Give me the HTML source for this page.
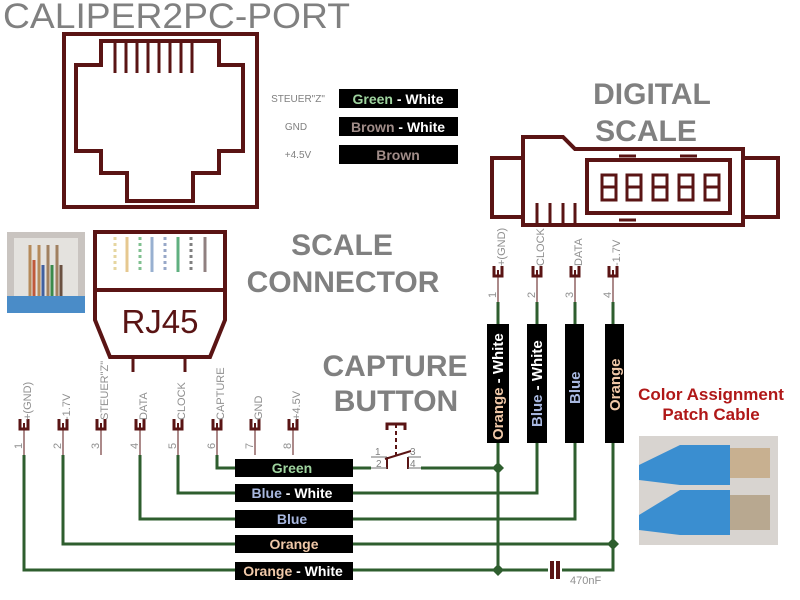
<!DOCTYPE html>
<html><head><meta charset="utf-8"><style>
body{margin:0;background:#fff}
svg{display:block}
text{font-family:"Liberation Sans",Arial,sans-serif}
</style></head><body>
<svg width="800" height="600" viewBox="0 0 800 600" xmlns="http://www.w3.org/2000/svg">
<defs>
<g id="pin"><path d="M-4,-6 V4 H4 V-6" fill="none" stroke="#5a1414" stroke-width="3"/><line x1="0" y1="4" x2="0" y2="-2" stroke="#5a1414" stroke-width="2"/></g>
</defs>
<rect width="800" height="600" fill="#fff"/>
<text x="3" y="28" font-size="35" fill="#808080" textLength="347" lengthAdjust="spacingAndGlyphs">CALIPER2PC-PORT</text>

<!-- RJ45 jack -->
<g fill="none" stroke="#5a1414" stroke-width="4">
<rect x="64" y="34" width="193" height="173"/>
<path d="M76,65 H101 V41 H219 V65 H243 V151 H219 V173 H193 V201 H127 V173 H101 V151 H76 Z"/>
<path d="M115,41V73 M126,41V73 M137,41V73 M148,41V73 M159,41V73 M170,41V73 M181,41V73 M192,41V73" stroke-width="3"/>
</g>

<!-- legend -->
<g font-size="10" fill="#808080" text-anchor="middle">
<text x="298" y="102">STEUER"Z"</text><text x="296" y="130">GND</text><text x="298" y="158">+4.5V</text>
</g>
<g font-size="14" font-weight="bold" text-anchor="middle">
<rect x="339" y="89" width="119" height="19" fill="#000"/>
<text x="398" y="104"><tspan fill="#9fd49f">Green</tspan><tspan fill="#fff"> - White</tspan></text>
<rect x="339" y="117" width="119" height="19" fill="#000"/>
<text x="398" y="132"><tspan fill="#a08c88">Brown</tspan><tspan fill="#fff"> - White</tspan></text>
<rect x="339" y="145" width="119" height="19" fill="#000"/>
<text x="398" y="160" fill="#a08c88">Brown</text>
</g>

<!-- photo -->
<rect x="7" y="232" width="78" height="81" fill="#c9c4c0"/>
<rect x="14" y="238" width="64" height="60" fill="#e4e2de"/>
<g stroke-width="3">
<line x1="30" y1="245" x2="30" y2="298" stroke="#b58a5a"/><line x1="34" y1="260" x2="34" y2="298" stroke="#c0583a"/>
<line x1="39" y1="245" x2="39" y2="298" stroke="#b58a5a"/><line x1="43" y1="265" x2="43" y2="298" stroke="#4060a0"/>
<line x1="48" y1="245" x2="48" y2="298" stroke="#a08060"/><line x1="52" y1="265" x2="52" y2="298" stroke="#3a8a4a"/>
<line x1="57" y1="245" x2="57" y2="298" stroke="#a08060"/><line x1="61" y1="265" x2="61" y2="298" stroke="#6a5040"/>
</g>
<rect x="7" y="296" width="78" height="17" fill="#4a8cc8"/>

<!-- RJ45 plug -->
<g fill="none" stroke="#5a1414" stroke-width="4">
<path d="M95,320 V232 H225 V320 L210,357 H110 Z"/>
<line x1="95" y1="290" x2="225" y2="290"/>
<path d="M133,357V372 M185,357V372" stroke-width="3"/>
</g>
<g stroke-width="3">
<line x1="115" y1="237" x2="115" y2="272" stroke="#e6d6a0" stroke-dasharray="3,3"/>
<line x1="127" y1="237" x2="127" y2="272" stroke="#e6c890"/>
<line x1="140" y1="237" x2="140" y2="272" stroke="#80c090" stroke-dasharray="3,3"/>
<line x1="152" y1="237" x2="152" y2="272" stroke="#98b0d0"/>
<line x1="165" y1="237" x2="165" y2="272" stroke="#98a8c8" stroke-dasharray="3,3"/>
<line x1="178" y1="237" x2="178" y2="272" stroke="#60b080"/>
<line x1="191" y1="237" x2="191" y2="272" stroke="#808080" stroke-dasharray="3,3"/>
<line x1="205" y1="237" x2="205" y2="272" stroke="#908080"/>
</g>
<text x="160" y="333" font-size="33" fill="#5a1414" text-anchor="middle">RJ45</text>

<g font-size="30" font-weight="bold" fill="#808080" text-anchor="middle">
<text x="342" y="255">SCALE</text><text x="343" y="292">CONNECTOR</text>
<text x="652" y="104">DIGITAL</text><text x="646" y="141">SCALE</text>
<text x="395" y="376">CAPTURE</text><text x="396" y="411">BUTTON</text>
</g>

<!-- digital scale -->
<g fill="none" stroke="#5a1414" stroke-width="4">
<rect x="492" y="158" width="31" height="59"/>
<rect x="743" y="158" width="35" height="59"/>
<path d="M523,137 H563 L575,149 H743 V225 H523 Z"/>
<rect x="587" y="160" width="143" height="53"/>
<path d="M537,203V225 M550,203V225 M563,203V225 M575,203V225" stroke-width="3"/>
<path d="M619,156H636 M680,156H697 M619,220H636" stroke-width="3"/>
<g stroke-width="3">
<rect x="602" y="175" width="14" height="25"/><line x1="602" y1="187" x2="616" y2="187"/>
<rect x="627" y="175" width="14" height="25"/><line x1="627" y1="187" x2="641" y2="187"/>
<rect x="653" y="175" width="14" height="25"/><line x1="653" y1="187" x2="667" y2="187"/>
<rect x="679" y="175" width="14" height="25"/><line x1="679" y1="187" x2="693" y2="187"/>
<rect x="705" y="175" width="14" height="25"/><line x1="705" y1="187" x2="719" y2="187"/>
</g>
</g>

<!-- scale connector pins -->
<g font-size="11" fill="#909090">
<use href="#pin" x="498" y="272"/><use href="#pin" x="537" y="272"/><use href="#pin" x="575" y="272"/><use href="#pin" x="613" y="272"/>
<text transform="translate(505,266) rotate(-90)">+(GND)</text>
<text transform="translate(544,266) rotate(-90)">CLOCK</text>
<text transform="translate(582,266) rotate(-90)">DATA</text>
<text transform="translate(620,266) rotate(-90)">-1.7V</text>
<text transform="translate(496,298) rotate(-90)">1</text>
<text transform="translate(535,298) rotate(-90)">2</text>
<text transform="translate(573,298) rotate(-90)">3</text>
<text transform="translate(611,298) rotate(-90)">4</text>
</g>
<g stroke="#5a1414" stroke-width="1"><path d="M498,276V302 M537,276V302 M575,276V302 M613,276V302"/></g>

<!-- bottom pins -->
<g font-size="11" fill="#909090">
<use href="#pin" x="24" y="425"/><use href="#pin" x="63" y="425"/><use href="#pin" x="101" y="425"/><use href="#pin" x="140" y="425"/>
<use href="#pin" x="178" y="425"/><use href="#pin" x="217" y="425"/><use href="#pin" x="255" y="425"/><use href="#pin" x="293" y="425"/>
<text transform="translate(31,420) rotate(-90)">+(GND)</text>
<text transform="translate(70,420) rotate(-90)">-1.7V</text>
<text transform="translate(108,420) rotate(-90)">STEUER"Z"</text>
<text transform="translate(147,420) rotate(-90)">DATA</text>
<text transform="translate(185,420) rotate(-90)">CLOCK</text>
<text transform="translate(224,420) rotate(-90)">CAPTURE</text>
<text transform="translate(262,420) rotate(-90)">GND</text>
<text transform="translate(300,420) rotate(-90)">+4.5V</text>
<text transform="translate(22,449) rotate(-90)">1</text>
<text transform="translate(61,449) rotate(-90)">2</text>
<text transform="translate(99,449) rotate(-90)">3</text>
<text transform="translate(138,449) rotate(-90)">4</text>
<text transform="translate(176,449) rotate(-90)">5</text>
<text transform="translate(215,449) rotate(-90)">6</text>
<text transform="translate(253,449) rotate(-90)">7</text>
<text transform="translate(291,449) rotate(-90)">8</text>
</g>
<g stroke="#5a1414" stroke-width="1"><path d="M24,429V455 M63,429V455 M101,429V455 M140,429V455 M178,429V455 M217,429V455 M255,429V455 M293,429V455"/></g>

<!-- wires -->
<g fill="none" stroke="#2e5e2e" stroke-width="3">
<path d="M217,455V468H240"/>
<path d="M178,455V493H240"/>
<path d="M140,455V519H240"/>
<path d="M63,455V544H240"/>
<path d="M24,455V570H240"/>
<path d="M350,468H371 M421,468H498"/>
<path d="M350,493H537V440"/>
<path d="M350,519H575V440"/>
<path d="M350,544H613"/>
<path d="M350,570H548 M562,570H613V440"/>
<path d="M498,440V570"/>
<path d="M498,302V326 M537,302V326 M575,302V326 M613,302V326"/>
</g>
<g fill="#2e5e2e">
<path d="M498,462L504,468L498,474L492,468Z"/>
<path d="M498,564L504,570L498,576L492,570Z"/>
<path d="M613,538L619,544L613,550L607,544Z"/>
</g>
<!-- capacitor -->
<g stroke="#5a1414" stroke-width="4"><line x1="552" y1="561" x2="552" y2="579"/><line x1="558" y1="561" x2="558" y2="579"/></g>
<text x="570" y="584" font-size="11" fill="#909090">470nF</text>

<!-- switch -->
<g stroke="#5a1414" fill="none">
<path d="M387,430V424H405V430" stroke-width="3"/>
<line x1="396" y1="424" x2="396" y2="456" stroke-width="2" stroke-dasharray="4,3"/>
<line x1="385" y1="459" x2="411" y2="451" stroke-width="2"/>
<line x1="387" y1="457" x2="387" y2="469" stroke-width="2"/>
<line x1="408" y1="457" x2="408" y2="469" stroke-width="2"/>
</g>
<g stroke="#707070" stroke-width="1"><path d="M371,457H387 M408,457H421 M371,468H387 M408,468H421"/></g>
<g font-size="10" fill="#808080"><text x="375" y="455">1</text><text x="410" y="455">3</text><text x="376" y="467">2</text><text x="410" y="467">4</text></g>

<!-- bottom boxes -->
<g font-size="14" font-weight="bold" text-anchor="middle">
<rect x="235" y="459" width="118" height="18" fill="#000"/>
<text x="292" y="473" fill="#9fd49f">Green</text>
<rect x="235" y="484" width="118" height="18" fill="#000"/>
<text x="292" y="498"><tspan fill="#a8b8e0">Blue</tspan><tspan fill="#fff"> - White</tspan></text>
<rect x="235" y="510" width="118" height="18" fill="#000"/>
<text x="292" y="524" fill="#a8b8e0">Blue</text>
<rect x="235" y="535" width="118" height="18" fill="#000"/>
<text x="294" y="549" fill="#f0c8a8">Orange</text>
<rect x="235" y="562" width="118" height="18" fill="#000"/>
<text x="293" y="576"><tspan fill="#f0c8a8">Orange</tspan><tspan fill="#fff"> - White</tspan></text>
</g>

<!-- vertical boxes -->
<g font-size="15" font-weight="bold">
<rect x="487" y="324" width="22" height="119" fill="#000"/>
<text transform="translate(503,440) rotate(-90)"><tspan fill="#f0c8a8">Orange</tspan><tspan fill="#fff"> - White</tspan></text>
<rect x="527" y="324" width="20" height="119" fill="#000"/>
<text transform="translate(542,427) rotate(-90)"><tspan fill="#a8b8e0">Blue</tspan><tspan fill="#fff"> - White</tspan></text>
<rect x="565" y="324" width="19" height="119" fill="#000"/>
<text transform="translate(580,404) rotate(-90)" fill="#a8b8e0">Blue</text>
<rect x="605" y="324" width="19" height="119" fill="#000"/>
<text transform="translate(620,411) rotate(-90)" fill="#f0c8a8">Orange</text>
</g>

<g font-size="17" font-weight="bold" fill="#b01818" text-anchor="middle">
<text x="711" y="400">Color Assignment</text><text x="711" y="420">Patch Cable</text>
</g>
<!-- patch photo -->
<rect x="639" y="436" width="139" height="109" fill="#d8d4d0"/>
<path d="M639,465 L680,445 H730 V485 H680 L639,480Z" fill="#3a8ed0"/>
<path d="M639,515 L680,490 H730 V535 H680 L639,530Z" fill="#3a8ed0"/>
<rect x="730" y="448" width="40" height="30" fill="#c8b090"/>
<rect x="730" y="495" width="40" height="35" fill="#b8a890"/>
</svg>
</body></html>
